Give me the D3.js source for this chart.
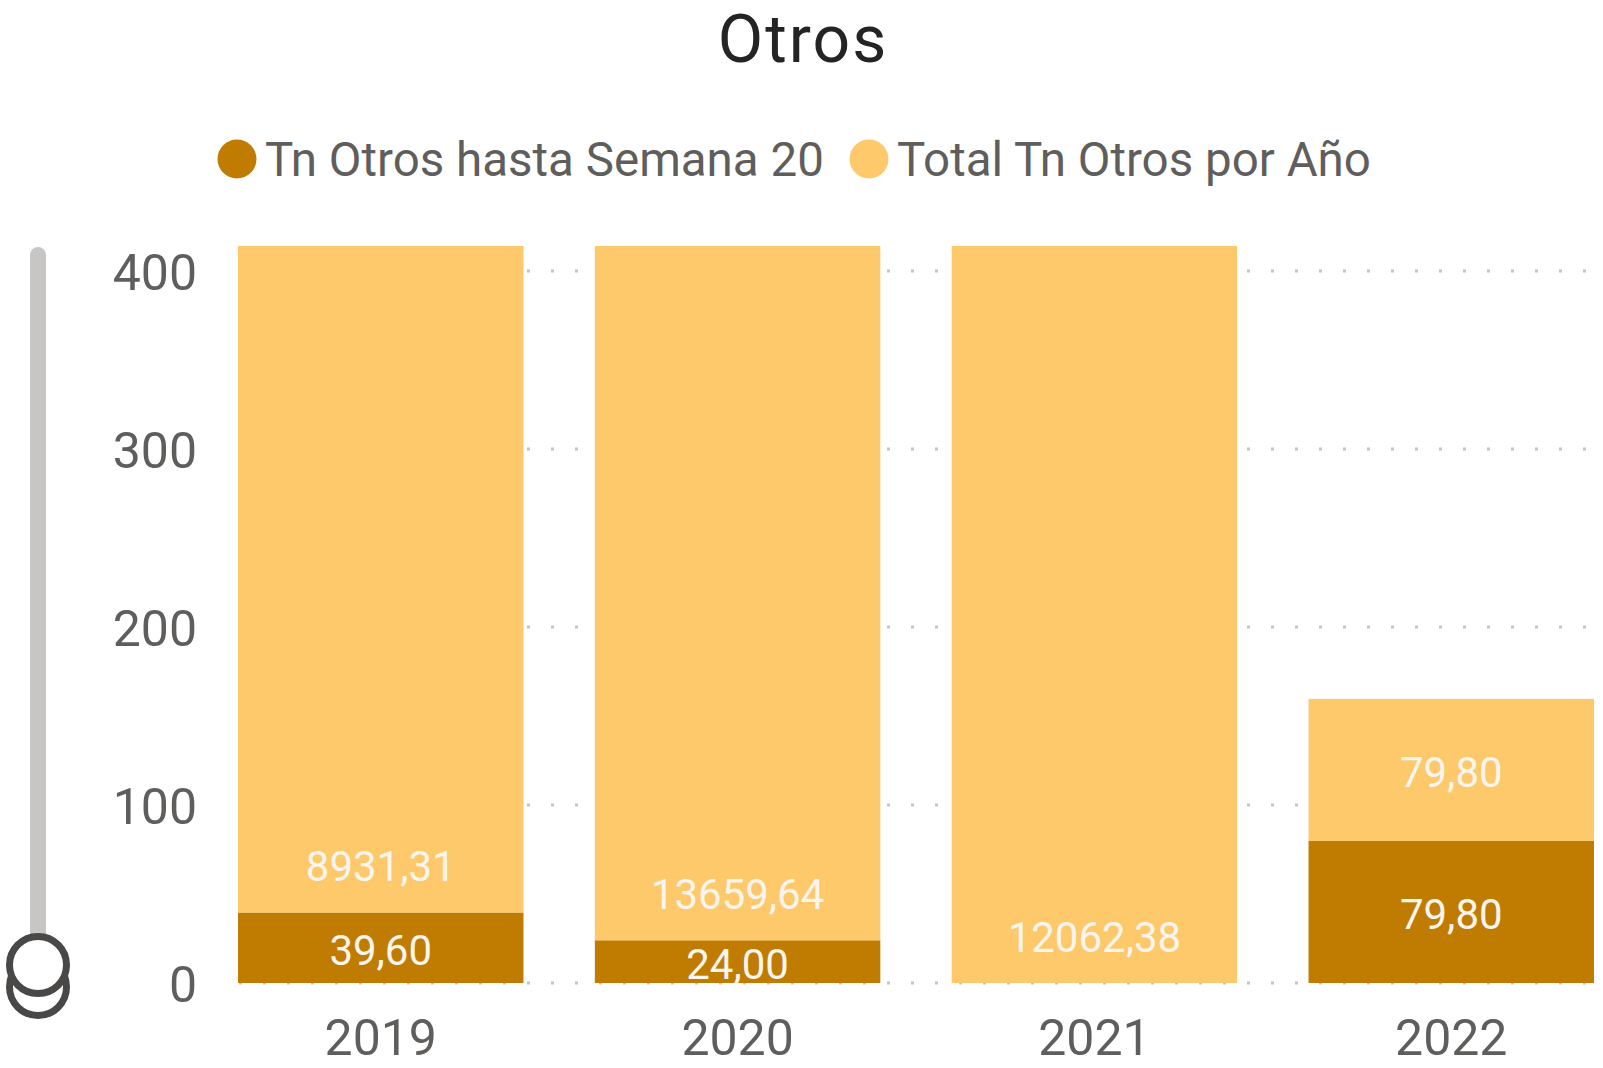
<!DOCTYPE html>
<html>
<head>
<meta charset="utf-8">
<script src="https://cdn.jsdelivr.net/npm/d3@7"></script>
<style>
  body { margin: 0; background: #fff; }
  text { font-family: "DIN", Roboto, sans-serif; }
</style>
</head>
<body>
<script>
// chart data
var years = ["2019", "2020", "2021", "2022"];
var hastaSemana20 = [39.60, 24.00, 0, 79.80];
var totalPorAnio = [8931.31, 13659.64, 12062.38, 79.80];
var yTicks = [0, 100, 200, 300, 400];
var seriesNames = ["Tn Otros hasta Semana 20", "Total Tn Otros por Año"];
var seriesColors = ["#C07C00", "#FEC96A"];

var width = 1603,
    height = 1068;

var svg = d3.select("body")
    .append("svg")
    .attr("width", width)
    .attr("height", height);

// visible window of the (zoomed) value axis
var yVisibleMax = 414;

var x = d3.scaleBand()
    .domain(years)
    .range([238, 1594])
    .paddingInner(0.2)
    .paddingOuter(0);

var y = d3.scaleLinear()
    .domain([0, yVisibleMax])
    .range([983, 246]);

var fmt = function(v){ return d3.format(".2f")(v).replace(".", ","); };

// title
svg.append("text")
    .attr("x", 803)
    .attr("y", 62)
    .attr("text-anchor", "middle")
    .style("font-size", "66px")
    .style("letter-spacing", "2px")
    .style("fill", "#252423")
    .text("Otros");

// legend
var legendX = [237, 869];
seriesNames.forEach(function(name, i){
    svg.append("circle")
        .attr("cx", legendX[i])
        .attr("cy", 159)
        .attr("r", 19.5)
        .attr("fill", seriesColors[i]);
    svg.append("text")
        .attr("x", legendX[i] + 28)
        .attr("y", 160)
        .attr("dominant-baseline", "central")
        .style("font-size", "47.5px")
        .style("fill", "#605E5C")
        .text(name);
});

// dotted gridlines
svg.selectAll(".grid")
    .data(yTicks)
    .enter()
    .append("line")
    .attr("class", "grid")
    .attr("x1", 239)
    .attr("x2", 1594)
    .attr("y1", function(d){ return y(d); })
    .attr("y2", function(d){ return y(d); })
    .attr("stroke", "#C8C6C4")
    .attr("stroke-width", 3)
    .attr("stroke-dasharray", "3,21");

// y tick labels
svg.selectAll(".ytick")
    .data(yTicks)
    .enter()
    .append("text")
    .attr("class", "ytick")
    .attr("x", 197)
    .attr("y", function(d){ return y(d) + 2; })
    .attr("text-anchor", "end")
    .attr("dominant-baseline", "central")
    .style("font-size", "50px")
    .style("fill", "#605E5C")
    .text(function(d){ return d; });

// clip for the zoomed plot area
svg.append("clipPath")
    .attr("id", "plotClip")
    .append("rect")
    .attr("x", 0)
    .attr("y", y(yVisibleMax))
    .attr("width", width)
    .attr("height", y(0) - y(yVisibleMax));

var rows = years.map(function(yr, i){
    return { year: yr, a: hastaSemana20[i], b: totalPorAnio[i] };
});

var plot = svg.append("g").attr("clip-path", "url(#plotClip)");

// stacked bars
plot.selectAll(".barA")
    .data(rows)
    .enter()
    .append("rect")
    .attr("class", "barA")
    .attr("x", function(d){ return x(d.year); })
    .attr("width", x.bandwidth())
    .attr("y", function(d){ return y(d.a); })
    .attr("height", function(d){ return y(0) - y(d.a); })
    .attr("fill", seriesColors[0]);

plot.selectAll(".barB")
    .data(rows)
    .enter()
    .append("rect")
    .attr("class", "barB")
    .attr("x", function(d){ return x(d.year); })
    .attr("width", x.bandwidth())
    .attr("y", function(d){ return y(d.a + d.b); })
    .attr("height", function(d){ return y(d.a) - y(d.a + d.b); })
    .attr("fill", seriesColors[1]);

// data labels
var labelStyle = function(sel){
    sel.attr("text-anchor", "middle")
        .attr("dominant-baseline", "central")
        .style("font-size", "42px")
        .style("fill", "#F8F5EF");
};

svg.selectAll(".labA")
    .data(rows.filter(function(d){ return d.a > 0; }))
    .enter()
    .append("text")
    .attr("class", "labA")
    .attr("x", function(d){ return x(d.year) + x.bandwidth() / 2; })
    .attr("y", function(d){ return (y(0) + y(d.a)) / 2 + 3; })
    .call(labelStyle)
    .text(function(d){ return fmt(d.a); });

svg.selectAll(".labB")
    .data(rows)
    .enter()
    .append("text")
    .attr("class", "labB")
    .attr("x", function(d){ return x(d.year) + x.bandwidth() / 2; })
    .attr("y", function(d){
        var top = d.a + d.b;
        if (top > yVisibleMax) return y(d.a) - 46;
        return (y(d.a) + y(top)) / 2 + 3;
    })
    .call(labelStyle)
    .text(function(d){ return fmt(d.b); });

// x axis labels
svg.selectAll(".xtick")
    .data(years)
    .enter()
    .append("text")
    .attr("class", "xtick")
    .attr("x", function(d){ return x(d) + x.bandwidth() / 2; })
    .attr("y", 1038)
    .attr("text-anchor", "middle")
    .attr("dominant-baseline", "central")
    .style("font-size", "50px")
    .style("fill", "#605E5C")
    .text(function(d){ return d; });

// zoom slider on the value axis
svg.append("line")
    .attr("x1", 38)
    .attr("x2", 38)
    .attr("y1", 255)
    .attr("y2", 940)
    .attr("stroke", "#C8C6C4")
    .attr("stroke-width", 16)
    .attr("stroke-linecap", "round");

[987, 965].forEach(function(cy){
    svg.append("circle")
        .attr("cx", 38)
        .attr("cy", cy)
        .attr("r", 28.5)
        .attr("fill", "#fff")
        .attr("stroke", "#4A4846")
        .attr("stroke-width", 7);
});
</script>
</body>
</html>
